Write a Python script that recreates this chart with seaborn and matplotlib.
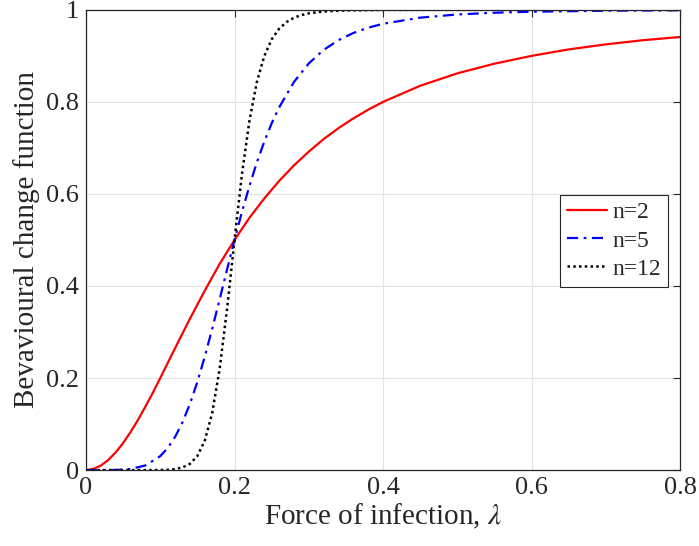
import numpy as np
import pandas as pd
import matplotlib.pyplot as plt
import seaborn as sns

# values
x_n2 = [0, 0.01, 0.02, 0.03, 0.04, 0.05, 0.06, 0.07, 0.08, 0.09, 0.10, 0.12, 0.14, 0.16, 0.18, 0.20,
        0.22, 0.24, 0.26, 0.28, 0.30, 0.32, 0.34, 0.36, 0.38, 0.40, 0.45, 0.50, 0.55, 0.60, 0.65,
        0.70, 0.75, 0.80]
y_n2 = [0, 0.0025, 0.0099, 0.022, 0.0385, 0.0588, 0.0826, 0.109, 0.138, 0.168, 0.2, 0.265, 0.329,
        0.390, 0.448, 0.5, 0.548, 0.590, 0.628, 0.662, 0.692, 0.719, 0.743, 0.764, 0.783, 0.8,
        0.835, 0.862, 0.883, 0.9, 0.914, 0.925, 0.934, 0.941]

x_n5 = [0, 0.02, 0.04, 0.06, 0.08, 0.10, 0.11, 0.12, 0.13, 0.14, 0.15, 0.16, 0.17, 0.18, 0.19,
        0.20, 0.21, 0.22, 0.23, 0.24, 0.25, 0.26, 0.28, 0.30, 0.32, 0.34, 0.36, 0.38, 0.40, 0.45,
        0.50, 0.55, 0.60, 0.70, 0.80]
y_n5 = [0, 0.00001, 0.0003, 0.0024, 0.0101, 0.0303, 0.0479, 0.0722, 0.104, 0.1439, 0.1918, 0.2468,
        0.3073, 0.3713, 0.4362, 0.5, 0.5607, 0.6169, 0.668, 0.7133, 0.7532, 0.7878, 0.8432, 0.8836,
        0.9129, 0.9342, 0.9497, 0.9612, 0.9697, 0.9830, 0.9899, 0.9937, 0.9959, 0.9981, 0.9990]

x_n12 = [0, 0.04, 0.08, 0.10, 0.11, 0.12, 0.13, 0.14, 0.15, 0.16, 0.17, 0.18, 0.19, 0.20, 0.21,
         0.22, 0.23, 0.24, 0.25, 0.26, 0.27, 0.28, 0.29, 0.30, 0.32, 0.35, 0.40, 0.50, 0.60, 0.70,
         0.80]
y_n12 = [0, 0, 0.00002, 0.0002, 0.0008, 0.0022, 0.0058, 0.0137, 0.0307, 0.0643, 0.1245, 0.2202,
         0.3508, 0.5, 0.6423, 0.7584, 0.8425, 0.8992, 0.9357, 0.9588, 0.9734, 0.9827, 0.9886,
         0.9924, 0.9965, 0.9988, 0.9998, 1.0, 1.0, 1.0, 1.0]

sns.set_style("whitegrid")
plt.rcParams['font.family'] = ['Liberation Serif', 'DejaVu Serif']
plt.rcParams['mathtext.fontset'] = 'stix'

fig = plt.figure(figsize=(6.99, 5.46), dpi=100)
ax = fig.add_axes([0.123, 0.139, 0.850, 0.843])

sns.lineplot(x=x_n2, y=y_n2, ax=ax, color='#ff0000', lw=1.6, label='n=2')
sns.lineplot(x=x_n5, y=y_n5, ax=ax, color='#0000ff', lw=1.6, dashes=(5, 2.5, 1.2, 2.5), label='n=5')
sns.lineplot(x=x_n12, y=y_n12, ax=ax, color='black', lw=1.8, dashes=(1, 1.3), label='n=12')

ax.set_xlim(0, 0.8)
ax.set_ylim(0, 1)
ax.set_xticks([0, 0.2, 0.4, 0.6, 0.8])
ax.set_xticklabels(['0', '0.2', '0.4', '0.6', '0.8'])
ax.set_yticks([0, 0.2, 0.4, 0.6, 0.8, 1])
ax.set_yticklabels(['0', '0.2', '0.4', '0.6', '0.8', '1'])
ax.grid(True, color='#e3e3e3', lw=0.8)
for s in ax.spines.values():
    s.set_color('#262626')
    s.set_linewidth(0.9)
ax.tick_params(axis='both', labelsize=19, colors='#262626', direction='in', length=5, width=0.8,
               top=True, right=True, pad=5)
for lab in ax.get_xticklabels() + ax.get_yticklabels():
    lab.set_color('#262626')

ax.set_xlabel(r'Force of infection, $\lambda$', fontsize=21, color='#262626', labelpad=2)
ax.set_ylabel('Bevavioural change function', fontsize=21, color='#262626', labelpad=4)

leg = ax.legend(loc='upper left', bbox_to_anchor=(0.798, 0.598), fontsize=17, frameon=True,
                fancybox=False, edgecolor='#262626', framealpha=1, handlelength=1.7,
                borderpad=0.3, labelspacing=0.28, handletextpad=0.22, borderaxespad=0)
leg.get_frame().set_linewidth(0.8)

fig.savefig('out.png', dpi=100)
